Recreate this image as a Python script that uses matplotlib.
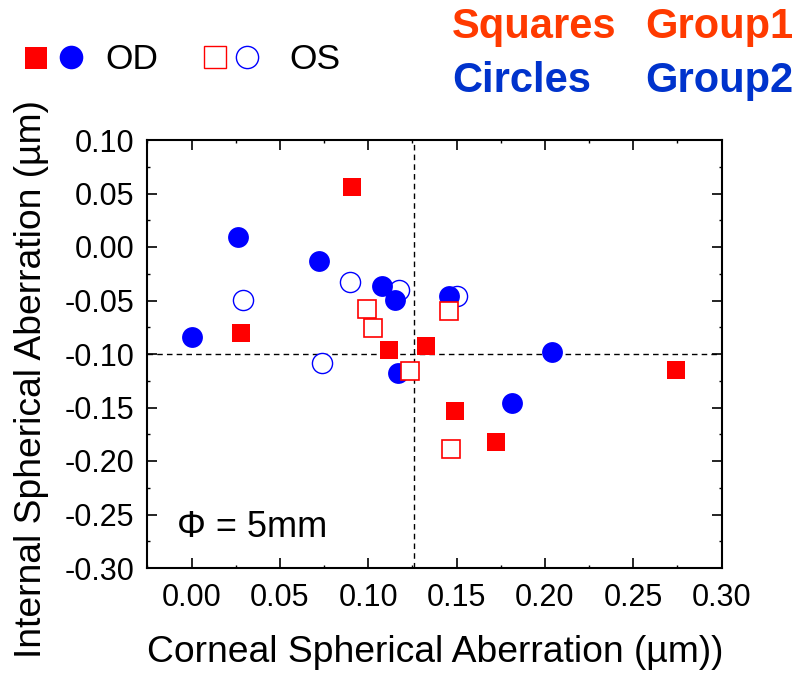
import matplotlib
matplotlib.use("Agg")
import matplotlib.pyplot as plt
from matplotlib.lines import Line2D
from matplotlib.ticker import MultipleLocator, FormatStrFormatter

plt.rcParams['font.family'] = ['Liberation Sans', 'DejaVu Sans']
plt.rcParams['axes.unicode_minus'] = False

# Group1 (squares), OD = filled, OS = open
g1_od_x = [0.091, 0.028, 0.1115, 0.133, 0.149, 0.1725, 0.274]
g1_od_y = [0.056, -0.080, -0.096, -0.0925, -0.153, -0.182, -0.115]
g1_os_x = [0.0995, 0.1025, 0.146, 0.1235, 0.147]
g1_os_y = [-0.058, -0.0755, -0.060, -0.116, -0.189]
# Group2 (circles)
g2_od_x = [0.0265, 0.0, 0.072, 0.108, 0.115, 0.1455, 0.204, 0.117, 0.1815]
g2_od_y = [0.009, -0.084, -0.013, -0.0365, -0.0495, -0.046, -0.098, -0.118, -0.146]
g2_os_x = [0.029, 0.0895, 0.1175, 0.1505, 0.074]
g2_os_y = [-0.0495, -0.033, -0.0405, -0.046, -0.1085]

ref_x = 0.126
ref_y = -0.10

x_ticks = [0.00, 0.05, 0.10, 0.15, 0.20, 0.25, 0.30]
y_ticks = [-0.30, -0.25, -0.20, -0.15, -0.10, -0.05, 0.00, 0.05, 0.10]

RED = '#FF0000'
BLUE = '#0000FF'

fig = plt.figure(figsize=(8.01, 6.75), dpi=100)
ax = fig.add_axes([146.5/801, 1-568/675, (721.5-146.5)/801, (568-140)/675])

ax.axvline(ref_x, color='black', ls=(0, (4, 3)), lw=1.0, zorder=1)
ax.axhline(ref_y, color='black', ls=(0, (4, 3)), lw=1.0, zorder=1)

ax.plot(g2_os_x, g2_os_y, ls='none', marker='o', ms=14.5, mfc='white', mec=BLUE, mew=1.0, zorder=2)
ax.plot(g2_od_x, g2_od_y, ls='none', marker='o', ms=15, mfc=BLUE, mec=BLUE, mew=0, zorder=3)
ax.plot(g1_os_x, g1_os_y, ls='none', marker='s', ms=12.5, mfc='white', mec=RED, mew=1.2, zorder=4)
ax.plot(g1_od_x, g1_od_y, ls='none', marker='s', ms=13, mfc=RED, mec=RED, mew=0, zorder=5)

ax.set_xlim(-0.0255, 0.30)
ax.set_ylim(-0.30, 0.10)
ax.set_xticks(x_ticks)
ax.set_yticks(y_ticks)
ax.xaxis.set_major_formatter(FormatStrFormatter('%.2f'))
ax.yaxis.set_major_formatter(FormatStrFormatter('%.2f'))
ax.xaxis.set_minor_locator(MultipleLocator(0.025))
ax.yaxis.set_minor_locator(MultipleLocator(0.025))
ax.tick_params(which='major', direction='in', length=7.5, width=1.2, top=True, right=True, labelsize=22)
ax.tick_params(axis='y', which='major', pad=9)
ax.tick_params(axis='x', which='major', pad=10.5)
ax.tick_params(which='minor', direction='in', length=2, width=1.0, top=True, right=True)
for s in ax.spines.values():
    s.set_linewidth(1.5)

ax.text(-0.008, -0.2617, '\u03a6 = 5mm', fontsize=26, va='center', ha='left')

fig.text(435/801, 1-653/675, 'Corneal Spherical Aberration (\u00b5m))', fontsize=26.8, ha='center', va='center')
fig.text(32/801, 1-379/675, 'Internal Spherical Aberration (\u00b5m)', fontsize=26.8, ha='center', va='center', rotation=90)

# legend markers
def fx(p):
    return p/801
def fy(p):
    return 1-p/675
fig.add_artist(Line2D([fx(35.5)], [fy(58)], ls='none', marker='s', ms=16.5, mfc=RED, mec=RED, mew=0, transform=fig.transFigure))
fig.add_artist(Line2D([fx(71)], [fy(57)], ls='none', marker='o', ms=17, mfc=BLUE, mec=BLUE, mew=0, transform=fig.transFigure))
fig.add_artist(Line2D([fx(215)], [fy(56.5)], ls='none', marker='s', ms=16, mfc='white', mec=RED, mew=1.0, transform=fig.transFigure))
fig.add_artist(Line2D([fx(247)], [fy(56.5)], ls='none', marker='o', ms=16, mfc='white', mec=BLUE, mew=1.0, transform=fig.transFigure))
fig.text(fx(105), fy(69), 'OD', fontsize=25.5, ha='left', va='baseline')
fig.text(fx(289), fy(69), 'OS', fontsize=25.5, ha='left', va='baseline')

ORANGE = '#FF3A00'
DBLUE = '#0033CC'
fig.text(fx(452), fy(38), 'Squares', fontsize=30, fontweight='bold', color=ORANGE, ha='left', va='baseline')
fig.text(fx(793), fy(38), 'Group1', fontsize=30, fontweight='bold', color=ORANGE, ha='right', va='baseline')
fig.text(fx(452), fy(92), 'Circles', fontsize=30, fontweight='bold', color=DBLUE, ha='left', va='baseline')
fig.text(fx(793), fy(92), 'Group2', fontsize=30, fontweight='bold', color=DBLUE, ha='right', va='baseline')

fig.savefig('out.png', dpi=100)
